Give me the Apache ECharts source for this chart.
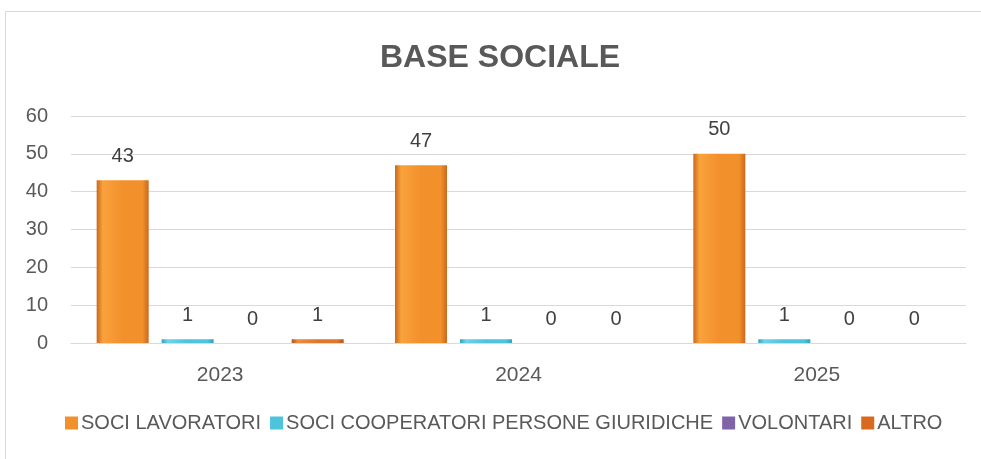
<!DOCTYPE html>
<html lang="it" style="height: 100%">
<head>
  <meta charset="utf-8">
</head>
<body style="height: 100%; margin: 0; background: #fff">
  <div id="container" style="width: 981px; height: 459px"></div>
  <script type="text/javascript" src="https://fastly.jsdelivr.net/npm/echarts@6/dist/echarts.min.js"></script>
  <script type="text/javascript">
    var years = ['2023', '2024', '2025'];
    var seriesNames = ['SOCI LAVORATORI', 'SOCI COOPERATORI PERSONE GIURIDICHE', 'VOLONTARI', 'ALTRO'];
    var sociLavoratori = [43, 47, 50];
    var sociCooperatori = [1, 1, 1];
    var volontari = [0, 0, 0];
    var altro = [1, 0, 0];
    var yTicks = [0, 10, 20, 30, 40, 50, 60];

    var dom = document.getElementById('container');
    var myChart = echarts.init(dom, null, { renderer: 'canvas' });

    var font = '"Liberation Sans", "DejaVu Sans", sans-serif';
    var textGrey = '#595959';

    // horizontal bevel-ish gradient per series
    function bevel(dark, mid, light) {
      return new echarts.graphic.LinearGradient(0, 0, 1, 0, [
        { offset: 0, color: dark },
        { offset: 0.12, color: light },
        { offset: 0.5, color: mid },
        { offset: 0.88, color: mid },
        { offset: 1, color: dark }
      ]);
    }
    var palette = [
      bevel('#C9691C', '#F2902C', '#F9A23C'),
      bevel('#2FA3BE', '#4DC3DC', '#6ED3E8'),
      bevel('#5E4386', '#8064A8', '#9479BC'),
      bevel('#B2531A', '#E0762A', '#EE8C3C')
    ];
    var legendColors = ['#F2902C', '#4DC3DC', '#8064A8', '#D8691F'];
    var dataList = [sociLavoratori, sociCooperatori, volontari, altro];

    var series = seriesNames.map(function (name, i) {
      return {
        name: name,
        type: 'bar',
        data: dataList[i],
        barWidth: 52,
        barGap: '25%',
        itemStyle: { color: palette[i] },
        label: {
          show: true,
          position: 'top',
          distance: 14,
          color: '#404040',
          fontSize: 20,
          fontFamily: font
        }
      };
    });

    var option = {
      backgroundColor: '#fff',
      color: legendColors,
      animation: false,
      title: {
        text: 'BASE SOCIALE',
        left: 375,
        top: 37,
        textStyle: { fontSize: 32, fontWeight: 'bold', color: textGrey, fontFamily: font }
      },
      legend: {
        bottom: 21,
        left: 60,
        itemWidth: 13,
        itemHeight: 13,
        itemGap: 9,
        icon: 'rect',
        textStyle: { fontSize: 20, color: textGrey, fontFamily: font, padding: [0, 0, 0, -2] },
        data: seriesNames.map(function (n, i) {
          return { name: n, itemStyle: { color: legendColors[i] } };
        })
      },
      grid: { left: 71, right: 15, top: 116, bottom: 116 },
      xAxis: {
        type: 'category',
        data: years,
        axisLine: { lineStyle: { color: '#D9D9D9', width: 1 } },
        axisTick: { show: false },
        axisLabel: { fontSize: 21, color: textGrey, fontFamily: font, margin: 22 }
      },
      yAxis: {
        type: 'value',
        min: yTicks[0],
        max: yTicks[yTicks.length - 1],
        interval: 10,
        axisLine: { show: false },
        axisTick: { show: false },
        axisLabel: { fontSize: 20, color: textGrey, fontFamily: font, margin: 23 },
        splitLine: { lineStyle: { color: '#D9D9D9', width: 1 } }
      },
      graphic: [{
        type: 'rect',
        shape: { x: 5.5, y: 11.5, width: 1000, height: 500 },
        style: { fill: 'none', stroke: '#D9D9D9', lineWidth: 1 },
        silent: true,
        z: -1
      }],
      series: series
    };

    myChart.setOption(option);
    window.addEventListener('resize', myChart.resize);
  </script>
</body>
</html>
